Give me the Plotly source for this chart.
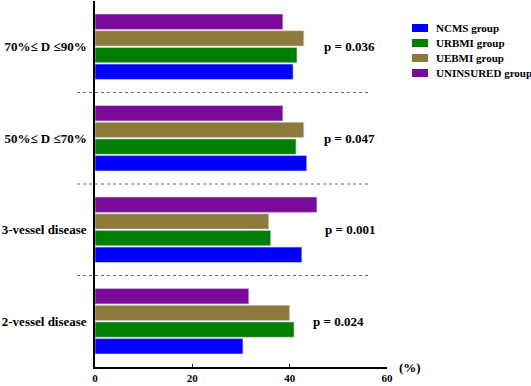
import plotly.graph_objects as go

categories = ["2-vessel disease", "3-vessel disease", "50%≤ D ≤70%", "70%≤ D ≤90%"]
ncms = [30.4, 42.5, 43.5, 40.7]
urbmi = [40.9, 36.1, 41.3, 41.5]
uebmi = [40.0, 35.7, 42.9, 42.9]
uninsured = [31.6, 45.6, 38.6, 38.6]
p_values = ["p = 0.024", "p = 0.001", "p = 0.047", "p = 0.036"]
p_x = [50.0, 52.3, 52.3, 52.3]
series_names = ["NCMS group", "URBMI group", "UEBMI group", "UNINSURED group"]
colors = ["#0000FF", "#007F00", "#8B7A3C", "#7A0A9A"]
x_ticks = [0, 20, 40, 60]

FONT = "Liberation Serif"
W, H = 531, 386
ML, MR, MT, MB = 95, 144, 1, 19
PW, PH = W - ML - MR, H - MT - MB


def px_to_paper_x(px):
    return (px - ML) / PW


def px_to_paper_y(py):
    return (H - MB - py) / PH


fig = go.Figure()
for name, vals, col in zip(series_names, [ncms, urbmi, uebmi, uninsured], colors):
    fig.add_trace(go.Bar(
        y=categories, x=vals, orientation="h", name=name, showlegend=False,
        marker=dict(color=col, line=dict(width=0.6, color="#d8d8e0")),
    ))

# custom compact legend (rows top-to-bottom in series order)
for i, (name, col) in enumerate(zip(series_names, colors)):
    cy = 28 + 15 * i
    fig.add_shape(type="rect", xref="paper", yref="paper",
                  x0=px_to_paper_x(412), x1=px_to_paper_x(428),
                  y0=px_to_paper_y(cy + 4), y1=px_to_paper_y(cy - 4),
                  fillcolor=col, line=dict(width=0))
    fig.add_annotation(x=px_to_paper_x(434), y=px_to_paper_y(cy), xref="paper", yref="paper",
                       text="<b>%s</b>" % name, showarrow=False,
                       xanchor="left", yanchor="middle",
                       font=dict(family=FONT, size=11, color="black"))

# dotted separators between groups
n = len(categories)
for i in range(n - 1):
    frac = (i + 1) / n
    fig.add_shape(type="line", xref="paper", yref="paper",
                  x0=px_to_paper_x(77), x1=px_to_paper_x(369), y0=frac, y1=frac,
                  line=dict(color="#666666", width=1, dash="dot"))

for cat, txt, px in zip(categories, p_values, p_x):
    fig.add_annotation(x=px, y=cat, text="<b>%s</b>" % txt, showarrow=False,
                       xref="x", yref="y",
                       font=dict(family=FONT, size=13, color="black"))

fig.add_annotation(x=px_to_paper_x(410), y=0.0, xref="paper", yref="paper", text="<b>(%)</b>",
                   showarrow=False, yanchor="middle", xanchor="center",
                   font=dict(family=FONT, size=13, color="black"))

fig.update_layout(
    width=W, height=H,
    margin=dict(l=ML, r=MR, t=MT, b=MB, autoexpand=False),
    barmode="group", bargap=0.27, bargroupgap=0.08,
    plot_bgcolor="white", paper_bgcolor="white",
    font=dict(family=FONT, color="black"),
    showlegend=False,
)
fig.update_xaxes(range=[0, 60], tickvals=x_ticks, ticktext=["<b>%d</b>" % v for v in x_ticks],
                 showline=True, linecolor="black", linewidth=1.5,
                 ticks="inside", ticklen=3, tickcolor="black",
                 showgrid=False, zeroline=False, automargin=False,
                 tickfont=dict(family=FONT, size=11, color="black"))
fig.update_yaxes(categoryorder="array", categoryarray=categories,
                 range=[-0.5, n - 0.5],
                 ticktext=["<b>%s</b>" % c for c in categories], tickvals=categories,
                 showline=True, linecolor="black", linewidth=1.5,
                 ticks="", showgrid=False, zeroline=False, automargin=False,
                 ticklabelstandoff=4,
                 tickfont=dict(family=FONT, size=13, color="black"))

fig.write_html("out.html", config={"displayModeBar": False})
with open("out.html", "r", encoding="utf-8") as f:
    html = f.read()
html = html.replace("<head>", "<head><style>html,body{margin:0;padding:0;overflow:hidden;}</style>", 1)
with open("out.html", "w", encoding="utf-8") as f:
    f.write(html)
